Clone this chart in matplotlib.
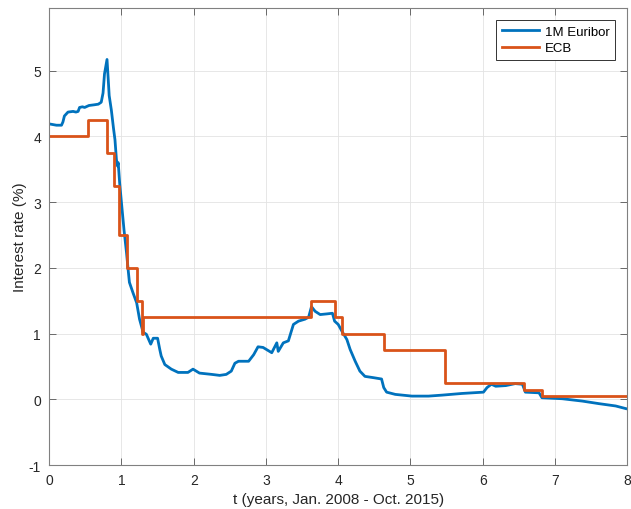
import numpy as np
import matplotlib
matplotlib.use("Agg")
import matplotlib.pyplot as plt

plt.rcParams["font.family"] = ["Liberation Sans", "DejaVu Sans"]
plt.rcParams["axes.unicode_minus"] = False

# 1M Euribor (t in years since Jan. 2008, rate in %)
euribor_t = [0.00, 0.05, 0.10, 0.17, 0.19, 0.21, 0.26, 0.33, 0.37, 0.40, 0.42, 0.46,
             0.49, 0.55, 0.62, 0.68, 0.72, 0.745, 0.765, 0.80, 0.815, 0.83, 0.86, 0.89,
             0.91, 0.93, 0.945, 0.955, 0.975, 1.00, 1.035, 1.07, 1.09, 1.11, 1.16, 1.21,
             1.25, 1.30, 1.345, 1.405, 1.44, 1.50, 1.53, 1.55, 1.60, 1.69, 1.785, 1.92,
             1.99, 2.08, 2.25, 2.36, 2.45, 2.52, 2.57, 2.62, 2.76, 2.83, 2.89, 2.96,
             3.08, 3.15, 3.17, 3.24, 3.31, 3.38, 3.45, 3.54, 3.59, 3.63, 3.68, 3.75,
             3.84, 3.92, 3.95, 4.00, 4.05, 4.12, 4.165, 4.235, 4.30, 4.37, 4.49, 4.60,
             4.63, 4.67, 4.79, 5.02, 5.25, 5.44, 5.71, 6.01, 6.06, 6.12, 6.18, 6.32,
             6.45, 6.55, 6.59, 6.78, 6.82, 7.10, 7.38, 7.61, 7.84, 7.98]
euribor_r = [4.19, 4.18, 4.17, 4.17, 4.22, 4.31, 4.37, 4.38, 4.37, 4.38, 4.44, 4.45,
             4.44, 4.47, 4.48, 4.49, 4.52, 4.66, 4.95, 5.17, 4.90, 4.62, 4.40, 4.12,
             3.95, 3.65, 3.55, 3.60, 3.29, 2.99, 2.58, 2.23, 2.00, 1.78, 1.62, 1.47,
             1.22, 1.02, 0.99, 0.84, 0.93, 0.93, 0.76, 0.66, 0.53, 0.46, 0.41, 0.41,
             0.46, 0.40, 0.38, 0.365, 0.38, 0.43, 0.55, 0.58, 0.58, 0.68, 0.80, 0.79,
             0.71, 0.86, 0.73, 0.86, 0.89, 1.14, 1.19, 1.22, 1.25, 1.41, 1.34, 1.29,
             1.30, 1.31, 1.19, 1.14, 1.04, 0.91, 0.76, 0.58, 0.43, 0.35, 0.33, 0.31,
             0.18, 0.11, 0.076, 0.05, 0.05, 0.065, 0.09, 0.11, 0.18, 0.23, 0.20, 0.21,
             0.24, 0.23, 0.11, 0.10, 0.025, 0.01, -0.026, -0.065, -0.10, -0.14]

# ECB main refinancing rate (step changes)
ecb_t = [0.00, 0.53, 0.80, 0.89, 0.97, 1.08, 1.22, 1.29, 1.30, 3.62, 3.96, 4.05,
         4.63, 5.48, 6.57, 6.82, 7.98]
ecb_r = [4.00, 4.25, 3.75, 3.25, 2.50, 2.00, 1.50, 1.00, 1.25, 1.50, 1.25, 1.00,
         0.75, 0.25, 0.15, 0.05, 0.05]

fig = plt.figure(figsize=(6.31, 5.10), dpi=100)
ax = fig.add_axes([0.078, 0.086, 0.916, 0.896])

ax.plot(euribor_t, euribor_r, color="#0072BD", lw=2.0, label="1M Euribor")
ax.plot(ecb_t, ecb_r, color="#D95319", lw=2.0, drawstyle="steps-post", label="ECB")

ax.set_xlim(0, 8)
ax.set_ylim(-1, 5.95)
ax.set_xticks(range(0, 9))
ax.set_yticks(range(-1, 6))
ax.grid(True, color="#e3e3e3", lw=0.6)
ax.set_axisbelow(True)

for s in ax.spines.values():
    s.set_color("#808080")
    s.set_linewidth(0.8)
ax.tick_params(direction="in", length=5, width=0.6, color="#555555",
               top=True, right=True, labelsize=10, labelcolor="#262626", pad=6)

ax.set_xlabel("t (years, Jan. 2008 - Oct. 2015)", fontsize=11, color="#262626", labelpad=3)
ax.set_ylabel("Interest rate (%)", fontsize=11, color="#262626", labelpad=1)

leg = ax.legend(loc="upper right", fontsize=9.5, handlelength=2.8, fancybox=False,
                framealpha=1, borderaxespad=0.9, borderpad=0.4, labelspacing=0.35,
                handletextpad=0.5)
leg.get_frame().set_edgecolor("#333333")
leg.get_frame().set_linewidth(0.7)

fig.savefig("out.png", dpi=100)
